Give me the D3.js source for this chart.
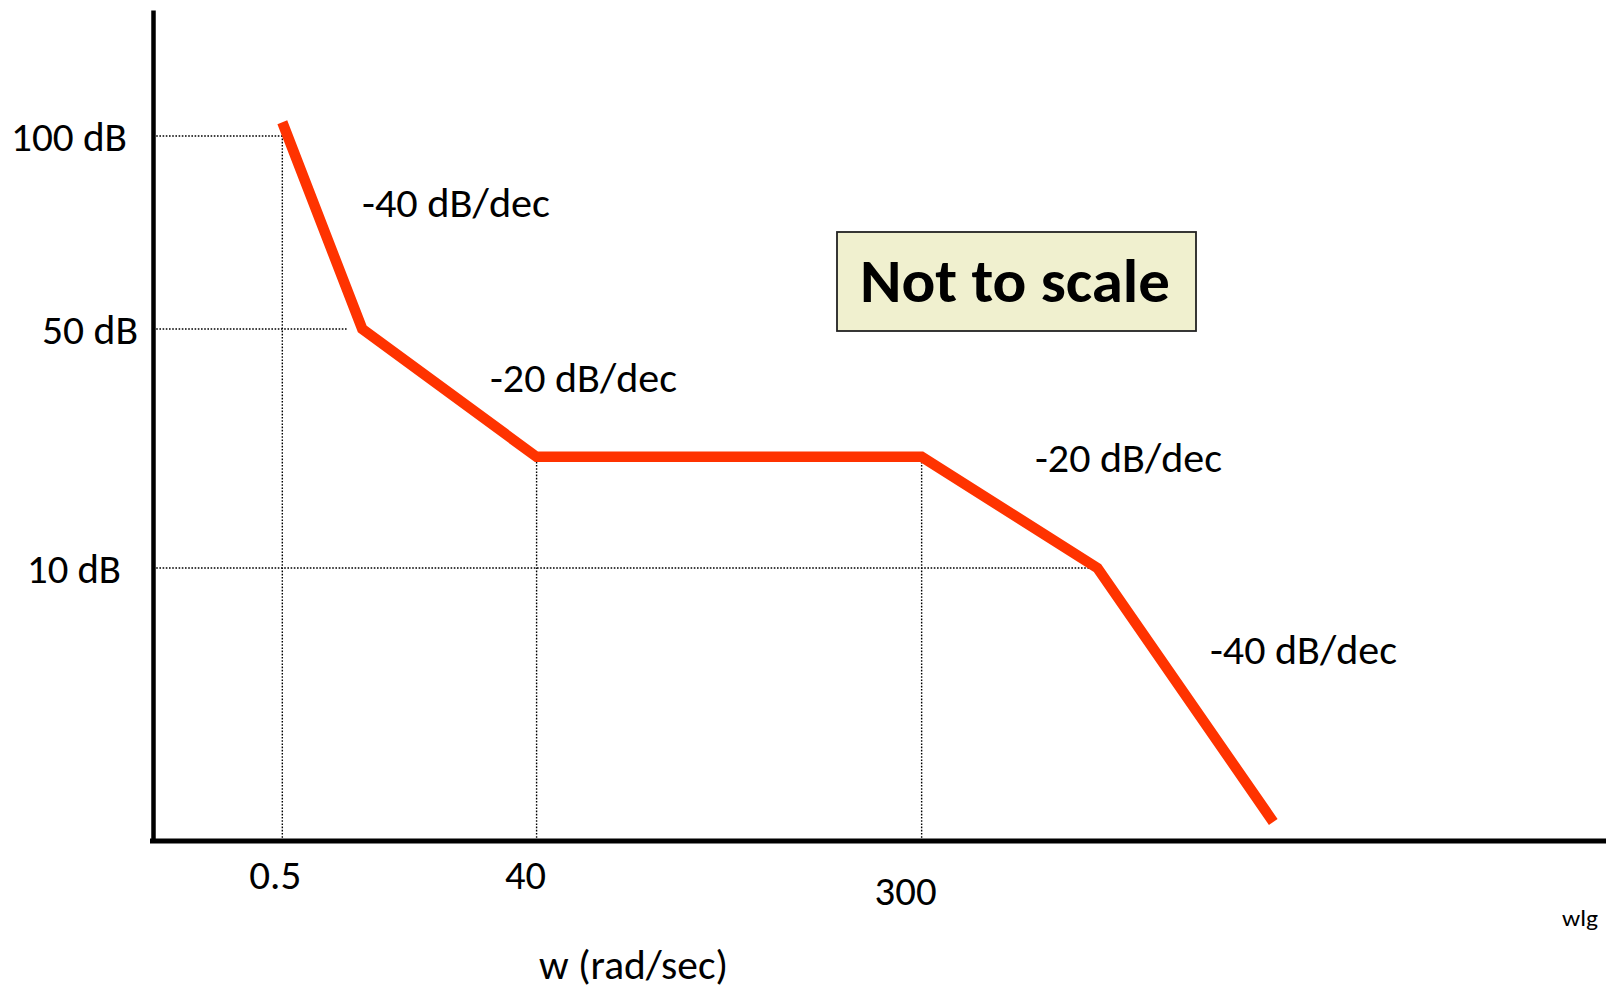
<!DOCTYPE html>
<html>
<head>
<meta charset="utf-8">
<script src="https://cdn.jsdelivr.net/npm/d3@7"></script>
<style>
  html, body { margin: 0; padding: 0; background: #fff; overflow: hidden; }
  svg { display: block; }
  text { font-family: Carlito, Calibri, "Open Sans", "Noto Sans", sans-serif; fill: #000; }
</style>
</head>
<body>
<svg id="chart" width="1606" height="990"></svg>
<script>
// ---- Data (chart is "not to scale": x is an abstract position, y in dB) ----
const curvePos = [8.9, 14.4, 26.4, 52.9, 65.0, 77.1];      // break-point positions along w axis
const curveDB  = [103.6, 50, 28.6, 28.6, 10, -17.9];        // asymptote magnitude (dB)

const xTickLabels = ["0.5", "40", "300"];
const xTickPos    = [8.9, 26.4, 52.9];
const xTickTopDB  = [100, 28.6, 28.6];                       // drop-line reaches the curve

const yTickLabels = ["100 dB", "50 dB", "10 dB"];
const yTickDB     = [100, 50, 10];
const yTickReach  = [8.9, 13.4, 65.0];                       // horizontal guide reaches the curve

const slopeLabels = ["-40 dB/dec", "-20 dB/dec", "-20 dB/dec", "-40 dB/dec"];
const noteText    = "Not to scale";
const xTitle      = "w (rad/sec)";
const cornerText  = "wlg";

// ---- Layout (pixels) ----
const W = 1606, H = 990;
const axisX = 153, axisY = 841, axisTop = 10;
const yLabelDx   = [-26, -15, -32];
const yLabelW    = [116, 96, 94];
const xLabelDx   = [-7, -11, -16];
const xLabelDy   = [48, 48, 64];
const xLabelW    = [52, 41, 62];
const slopeLayout = [ {x: 362, y: 217, w: 188}, {x: 490, y: 392, w: 187},
                      {x: 1035, y: 472, w: 187}, {x: 1210, y: 664, w: 187} ];
const box = {x: 837, y: 232, w: 359, h: 99};

const svg = d3.select("#chart");

const x = d3.scaleLinear().domain([0, 100]).range([axisX, W]);
const y = d3.scaleLinear().domain([-20, 10, 50, 100, 133]).range([axisY, 568, 329, 136, axisTop]);

// Dotted guide lines
const dotted = svg.append("g").attr("stroke", "#000").attr("stroke-width", 1.4)
  .attr("stroke-dasharray", "1.6,1.6").attr("fill", "none");
xTickPos.forEach((p, i) => {
  dotted.append("line").attr("x1", x(p)).attr("x2", x(p))
    .attr("y1", y(-20)).attr("y2", y(xTickTopDB[i]));
});
yTickDB.forEach((v, i) => {
  dotted.append("line").attr("x1", x(0)).attr("x2", x(yTickReach[i]))
    .attr("y1", y(v)).attr("y2", y(v));
});

// Axes (domain lines only)
const gx = svg.append("g").attr("transform", `translate(0,${axisY})`)
  .call(d3.axisBottom(x).tickValues([]).tickSizeOuter(0));
gx.select(".domain").attr("stroke", "#000").attr("stroke-width", 5)
  .attr("d", `M${axisX - 3},0H${W}`);
const gy = svg.append("g").attr("transform", `translate(${axisX},0)`)
  .call(d3.axisLeft(y).tickValues([]).tickSizeOuter(0));
gy.select(".domain").attr("stroke", "#000").attr("stroke-width", 4.5);

// Asymptotic magnitude curve
const pts = curvePos.map((p, i) => [p, curveDB[i]]);
svg.append("path").datum(pts)
  .attr("d", d3.line().x(d => x(d[0])).y(d => y(d[1])))
  .attr("fill", "none").attr("stroke", "#FF3300").attr("stroke-width", 10.5)
  .attr("stroke-linejoin", "miter").attr("stroke-linecap", "butt");

function fitText(sel, w) {
  sel.attr("textLength", w).attr("lengthAdjust", "spacingAndGlyphs");
}

// Y tick labels
yTickLabels.forEach((t, i) => {
  svg.append("text").text(t).attr("font-size", 40)
    .attr("x", axisX + yLabelDx[i] - yLabelW[i]).attr("y", y(yTickDB[i]) + 15)
    .call(fitText, yLabelW[i]);
});

// X tick labels
xTickLabels.forEach((t, i) => {
  const cx = x(xTickPos[i]) + xLabelDx[i];
  svg.append("text").text(t).attr("font-size", 40)
    .attr("x", cx - xLabelW[i] / 2).attr("y", axisY + xLabelDy[i])
    .call(fitText, xLabelW[i]);
});

// Slope annotations
slopeLabels.forEach((t, i) => {
  const L = slopeLayout[i];
  svg.append("text").text(t).attr("font-size", 40)
    .attr("x", L.x).attr("y", L.y).call(fitText, L.w);
});

// "Not to scale" note
svg.append("rect").attr("x", box.x).attr("y", box.y).attr("width", box.w).attr("height", box.h)
  .attr("fill", "#F0F0CF").attr("stroke", "#222").attr("stroke-width", 1.8);
svg.append("text").text(noteText).attr("font-size", 61).attr("font-weight", "bold")
  .attr("x", 860).attr("y", 302).call(fitText, 310);

// Axis title & corner text
svg.append("text").text(xTitle).attr("font-size", 40)
  .attr("x", 539).attr("y", 979).call(fitText, 189);
svg.append("text").text(cornerText).attr("font-size", 22)
  .attr("x", 1562).attr("y", 926).call(fitText, 36);
</script>
</body>
</html>
